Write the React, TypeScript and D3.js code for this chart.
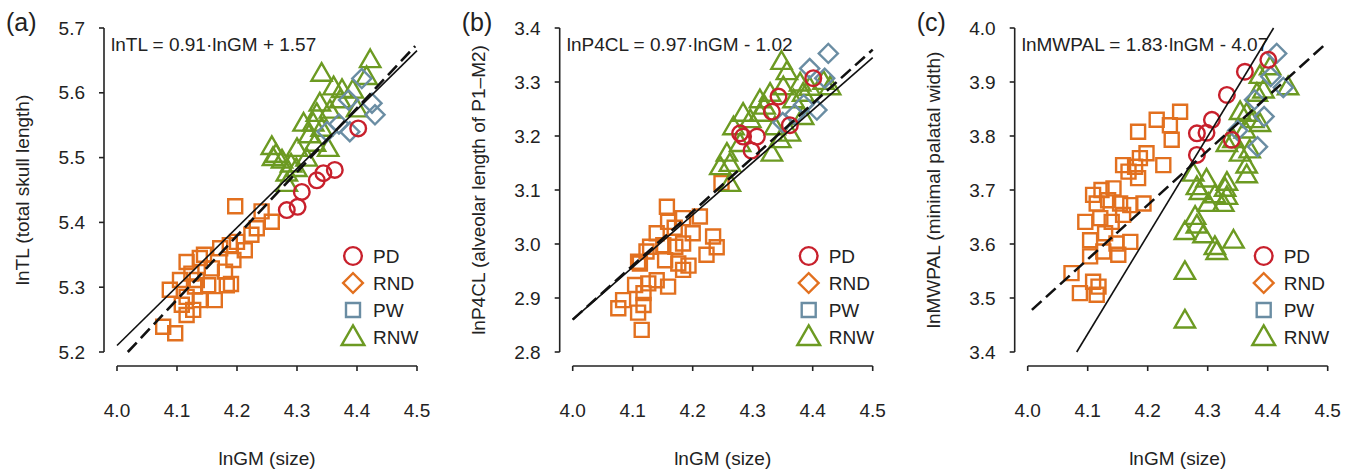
import React from "react";
import * as d3 from "d3";

// ---------- DATA ----------
const xTicks = [4.0, 4.1, 4.2, 4.3, 4.4, 4.5];
const yTicksA = [5.2, 5.3, 5.4, 5.5, 5.6, 5.7];
const yTicksB = [2.8, 2.9, 3.0, 3.1, 3.2, 3.3, 3.4];
const yTicksC = [3.4, 3.5, 3.6, 3.7, 3.8, 3.9, 4.0];

const legendLabels = ["PD", "RND", "PW", "RNW"];

// Panel (a): lnTL
const aPD: [number, number][] = [[4.283,5.419],[4.301,5.424],[4.308,5.447],[4.333,5.465],[4.344,5.476],[4.363,5.481],[4.402,5.545]];
const aPW: [number, number][] = [[4.408,5.622],[4.386,5.589],[4.425,5.584],[4.43,5.566],[4.35,5.54],[4.388,5.54],[4.37,5.552]];
const aRNW: [number, number][] = [[4.341,5.630],[4.422,5.651],[4.416,5.625],[4.361,5.609],[4.393,5.604],[4.338,5.584],[4.372,5.589],[4.355,5.573],[4.333,5.568],[4.311,5.553],[4.327,5.553],[4.341,5.545],[4.258,5.517],[4.3,5.514],[4.33,5.522],[4.352,5.514],[4.275,5.496],[4.26,5.50],[4.316,5.499],[4.283,5.476],[4.283,5.46],[4.299,5.483],[4.375,5.605],[4.4,5.575],[4.32,5.535],[4.265,5.505],[4.29,5.49]];
const aRND: [number, number][] = [[4.197,5.425],[4.241,5.417],[4.258,5.401],[4.233,5.391],[4.224,5.381],[4.213,5.357],[4.188,5.365],[4.194,5.342],[4.172,5.36],[4.138,5.345],[4.116,5.339],[4.158,5.329],[4.183,5.303],[4.19,5.305],[4.152,5.303],[4.13,5.301],[4.105,5.311],[4.088,5.296],[4.116,5.285],[4.138,5.28],[4.163,5.28],[4.108,5.273],[4.127,5.265],[4.116,5.257],[4.077,5.239],[4.097,5.229],[4.124,5.321],[4.133,5.311],[4.18,5.324],[4.145,5.35],[4.2,5.37]];

// Panel (b): lnP4CL
const bPD: [number, number][] = [[4.401,3.307],[4.343,3.273],[4.332,3.245],[4.362,3.22],[4.279,3.205],[4.284,3.199],[4.307,3.199],[4.298,3.173]];
const bPW: [number, number][] = [[4.426,3.353],[4.395,3.325],[4.42,3.307],[4.385,3.258],[4.407,3.248],[4.37,3.24],[4.35,3.225]];
const bRNW: [number, number][] = [[4.348,3.338],[4.357,3.319],[4.379,3.298],[4.418,3.301],[4.429,3.291],[4.384,3.279],[4.351,3.291],[4.329,3.279],[4.312,3.267],[4.368,3.267],[4.284,3.242],[4.312,3.242],[4.384,3.236],[4.296,3.23],[4.268,3.217],[4.337,3.217],[4.362,3.205],[4.346,3.193],[4.279,3.186],[4.332,3.168],[4.257,3.168],[4.262,3.149],[4.246,3.143],[4.262,3.112],[4.395,3.29],[4.32,3.255]];
const bRND: [number, number][] = [[4.157,3.069],[4.159,3.041],[4.184,3.048],[4.212,3.051],[4.234,3.014],[4.24,2.994],[4.223,2.98],[4.193,2.96],[4.184,3.001],[4.171,2.995],[4.151,2.998],[4.129,2.995],[4.123,2.986],[4.112,2.964],[4.154,2.97],[4.14,2.933],[4.159,2.921],[4.104,2.924],[4.126,2.927],[4.118,2.909],[4.076,2.881],[4.109,2.873],[4.115,2.841],[4.118,2.887],[4.084,2.896],[4.184,2.952],[4.176,2.964],[4.109,2.967],[4.14,3.02],[4.17,3.03],[4.2,3.02],[4.248,3.113]];

// Panel (c): lnMWPAL
const cPD: [number, number][] = [[4.401,3.941],[4.362,3.919],[4.332,3.876],[4.307,3.83],[4.298,3.806],[4.282,3.805],[4.34,3.793],[4.282,3.765]];
const cPW: [number, number][] = [[4.415,3.953],[4.405,3.91],[4.426,3.89],[4.378,3.867],[4.394,3.836],[4.35,3.81],[4.383,3.78]];
const cRNW: [number, number][] = [[4.404,3.928],[4.434,3.891],[4.387,3.912],[4.382,3.879],[4.393,3.885],[4.354,3.845],[4.365,3.842],[4.387,3.823],[4.376,3.83],[4.362,3.811],[4.343,3.793],[4.332,3.786],[4.37,3.774],[4.354,3.768],[4.365,3.746],[4.365,3.728],[4.276,3.731],[4.298,3.72],[4.332,3.714],[4.282,3.706],[4.329,3.703],[4.287,3.697],[4.312,3.691],[4.332,3.688],[4.301,3.675],[4.326,3.675],[4.279,3.651],[4.262,3.623],[4.282,3.635],[4.293,3.617],[4.312,3.595],[4.315,3.586],[4.343,3.607],[4.262,3.549],[4.262,3.459]];
const cRND: [number, number][] = [[4.254,3.845],[4.215,3.83],[4.237,3.82],[4.184,3.808],[4.24,3.793],[4.198,3.768],[4.187,3.759],[4.226,3.746],[4.159,3.746],[4.179,3.743],[4.168,3.734],[4.184,3.722],[4.143,3.703],[4.123,3.7],[4.109,3.691],[4.115,3.675],[4.134,3.681],[4.154,3.675],[4.171,3.672],[4.193,3.675],[4.096,3.641],[4.121,3.648],[4.14,3.641],[4.159,3.654],[4.104,3.607],[4.129,3.62],[4.148,3.601],[4.171,3.604],[4.104,3.577],[4.126,3.586],[4.151,3.58],[4.073,3.546],[4.109,3.53],[4.118,3.521],[4.087,3.509],[4.115,3.506]];

// Fitted (solid) and isometric (dashed) lines: endpoints in data units
const aSolid: [number, number][] = [[4.0, 5.21], [4.5, 5.665]];
const aDashed: [number, number][] = [[4.018, 5.2], [4.497, 5.672]];
const bSolid: [number, number][] = [[4.0, 2.86], [4.5, 3.345]];
const bDashed: [number, number][] = [[4.0, 2.86], [4.5, 3.36]];
const cSolid: [number, number][] = [[4.0817, 3.4], [4.4098, 4.0]];
const cDashed: [number, number][] = [[4.007, 3.478], [4.498, 3.972]];

const equations = ["lnTL = 0.91·lnGM + 1.57", "lnP4CL = 0.97·lnGM - 1.02", "lnMWPAL = 1.83·lnGM - 4.07"];
const yTitles = ["lnTL (total skull length)", "lnP4CL (alveolar length of P1–M2)", "lnMWPAL (minimal palatal width)"];
const panelLabels = ["(a)", "(b)", "(c)"];
const xTitle = "lnGM (size)";

// ---------- STYLE ----------
const COLORS = { PD: "#c8202c", RND: "#e2701f", PW: "#6a8da3", RNW: "#6c9a22" };
const FONT = "'Liberation Sans', Arial, Helvetica, sans-serif";
const FS = 19;

type Shape = "circle" | "square" | "diamond" | "triangle";

function shapePath(shape: Shape, s: number): string {
  if (shape === "circle") return d3.symbol(d3.symbolCircle, s * s * 0.85)() as string;
  if (shape === "square") return d3.symbol(d3.symbolSquare, s * s)() as string;
  if (shape === "diamond") return d3.symbol(d3.symbolSquare, s * s)() as string;
  return d3.symbol(d3.symbolTriangle, s * s * 0.62)() as string;
}

function Marker({ x, y, shape, color, s }: { x: number; y: number; shape: Shape; color: string; s: number }) {
  const rot = shape === "diamond" ? " rotate(45)" : "";
  const dy = shape === "triangle" ? 1.5 : 0;
  return (
    <path
      d={shapePath(shape, s)}
      transform={`translate(${x},${y + dy})${rot}`}
      fill="none"
      stroke={color}
      strokeWidth={2.4}
    />
  );
}

interface PanelProps {
  x0: number;
  yDomain: [number, number];
  yTicks: number[];
  pd: [number, number][];
  pw: [number, number][];
  rnw: [number, number][];
  rnd: [number, number][];
  solid: [number, number][];
  dashed: [number, number][];
  eq: string;
  yTitle: string;
  label: string;
}

const TOP = 28;
const BOTTOM = 352;
const XAXIS_Y = 366;
const W = 300;

function Panel(p: PanelProps) {
  const x = d3.scaleLinear().domain([4.0, 4.5]).range([p.x0, p.x0 + W]);
  const y = d3.scaleLinear().domain(p.yDomain).range([BOTTOM, TOP]);
  const axisX = p.x0 - 13;
  const line = d3.line<[number, number]>().x((d) => x(d[0])).y((d) => y(d[1]));
  const legendX = p.x0 + 236;
  const legendYs = [256, 283, 310, 337];
  const legendShapes: Shape[] = ["circle", "diamond", "square", "triangle"];
  const legendColors = [COLORS.PD, COLORS.RND, COLORS.PW, COLORS.RNW];
  return (
    <g>
      {/* y axis */}
      <line x1={axisX} x2={axisX} y1={TOP} y2={BOTTOM} stroke="#222" strokeWidth={1.6} />
      {p.yTicks.map((t) => (
        <g key={"yt" + t}>
          <line x1={axisX - 5} x2={axisX} y1={y(t)} y2={y(t)} stroke="#222" strokeWidth={1.6} />
          <text x={axisX - 19} y={y(t)} dy="0.35em" textAnchor="end" fontSize={FS} fontFamily={FONT} fill="#222">
            {t.toFixed(1)}
          </text>
        </g>
      ))}
      {/* x axis */}
      <line x1={x(4.0)} x2={x(4.5)} y1={XAXIS_Y} y2={XAXIS_Y} stroke="#222" strokeWidth={1.6} />
      {xTicks.map((t) => (
        <g key={"xt" + t}>
          <line x1={x(t)} x2={x(t)} y1={XAXIS_Y} y2={XAXIS_Y + 5} stroke="#222" strokeWidth={1.6} />
          <text x={x(t)} y={417} textAnchor="middle" fontSize={FS} fontFamily={FONT} fill="#222">
            {t.toFixed(1)}
          </text>
        </g>
      ))}
      <text x={x(4.25)} y={465} textAnchor="middle" fontSize={FS} fontFamily={FONT} fill="#222">
        {xTitle}
      </text>
      <text
        transform={`translate(${axisX - 75},${(TOP + BOTTOM) / 2}) rotate(-90)`}
        textAnchor="middle"
        fontSize={FS}
        fontFamily={FONT}
        fill="#222"
      >
        {p.yTitle}
      </text>
      <text x={axisX - 98} y={31} fontSize={25} fontFamily={FONT} fill="#222">
        {p.label}
      </text>
      <text x={axisX + 7} y={51} fontSize={FS} fontFamily={FONT} fill="#222">
        {p.eq}
      </text>
      {/* points */}
      {p.rnd.map((d, i) => (
        <Marker key={"rnd" + i} x={x(d[0])} y={y(d[1])} shape="square" color={COLORS.RND} s={14} />
      ))}
      {p.rnw.map((d, i) => (
        <Marker key={"rnw" + i} x={x(d[0])} y={y(d[1])} shape="triangle" color={COLORS.RNW} s={17} />
      ))}
      {p.pw.map((d, i) => (
        <Marker key={"pw" + i} x={x(d[0])} y={y(d[1])} shape="diamond" color={COLORS.PW} s={13.5} />
      ))}
      {p.pd.map((d, i) => (
        <Marker key={"pd" + i} x={x(d[0])} y={y(d[1])} shape="circle" color={COLORS.PD} s={15} />
      ))}
      {/* lines */}
      <path d={line(p.dashed) as string} stroke="#111" strokeWidth={2.6} strokeDasharray="13,6" fill="none" />
      <path d={line(p.solid) as string} stroke="#111" strokeWidth={1.6} fill="none" />
      {/* legend */}
      {legendLabels.map((lab, i) => (
        <g key={"lg" + lab}>
          <Marker x={legendX} y={legendYs[i]} shape={legendShapes[i]} color={legendColors[i]} s={i === 3 ? 19 : i === 0 ? 17 : 14} />
          <text x={legendX + 20} y={legendYs[i]} dy="0.35em" fontSize={FS} fontFamily={FONT} fill="#222">
            {lab}
          </text>
        </g>
      ))}
    </g>
  );
}

export default function App() {
  return (
    <svg width={1353} height={470} style={{ position: "absolute", left: 0, top: 0, background: "#fff" }}>
      <Panel x0={117} yDomain={[5.2, 5.7]} yTicks={yTicksA} pd={aPD} pw={aPW} rnw={aRNW} rnd={aRND} solid={aSolid} dashed={aDashed} eq={equations[0]} yTitle={yTitles[0]} label={panelLabels[0]} />
      <Panel x0={572.7} yDomain={[2.8, 3.4]} yTicks={yTicksB} pd={bPD} pw={bPW} rnw={bRNW} rnd={bRND} solid={bSolid} dashed={bDashed} eq={equations[1]} yTitle={yTitles[1]} label={panelLabels[1]} />
      <Panel x0={1027.7} yDomain={[3.4, 4.0]} yTicks={yTicksC} pd={cPD} pw={cPW} rnw={cRNW} rnd={cRND} solid={cSolid} dashed={cDashed} eq={equations[2]} yTitle={yTitles[2]} label={panelLabels[2]} />
    </svg>
  );
}
